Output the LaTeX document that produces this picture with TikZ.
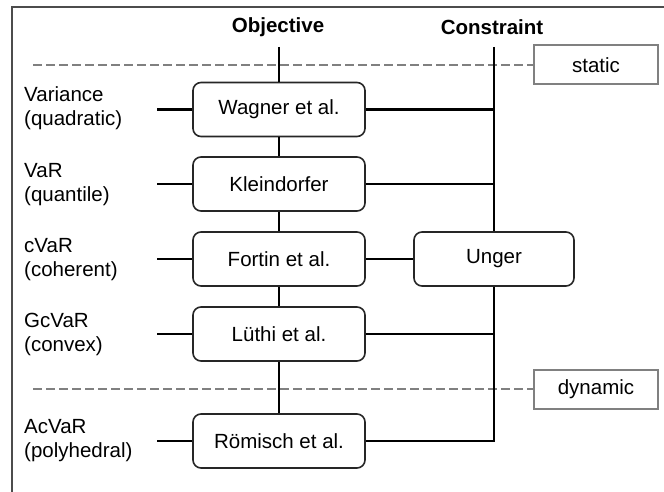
\documentclass[tikz,border=0pt]{standalone}
\usepackage{fontspec}
\setmainfont{Liberation Sans}
\newcommand{\fsz}{\fontsize{20.5pt}{24pt}\selectfont}
\begin{document}
\begin{tikzpicture}[x=1pt,y=-1pt,
  conn/.style={line width=2.3pt, black},
  obox/.style={draw=black!85, line width=1.6pt, rounded corners=8pt, minimum width=172pt, minimum height=54pt, inner sep=0pt, font=\fsz},
  tagbox/.style={draw=gray, line width=2pt, minimum width=124pt, minimum height=39pt, inner sep=0pt, font=\fsz},
  sepline/.style={gray, line width=2.2pt, dash pattern=on 9pt off 4pt},
  lab/.style={anchor=west, align=left, inner sep=0pt, font=\fsz},
  head/.style={font=\fsz\bfseries, inner sep=0pt}]
\useasboundingbox (0,0) rectangle (664,492);
\draw[line width=1.6pt, black!70] (12,495) -- (12,7) -- (667,7);

\node[head] (objh) at (278,27) {Objective};
\node[head] (consh) at (492,27) {Constraint};

\node[tagbox] (static) at (596,65) {static};
\node[tagbox] (dynamic) at (596,389) {dynamic};
\coordinate (d1) at (33,65);
\coordinate (d2) at (33,389);
\draw[sepline] (d1) -- (static.west);
\draw[sepline] (d2) -- (dynamic.west);

\node[obox] (wag) at (279,109.5) {Wagner et al.};
\node[obox] (kle) at (279,184) {Kleindorfer};
\node[obox] (for) at (279,259) {Fortin et al.};
\node[obox] (lut) at (279,334) {Lüthi et al.};
\node[obox] (rom) at (279,441) {Römisch et al.};
\node[obox, minimum width=160pt] (ung) at (494,259) {Unger};

\node[lab] (l1) at (24,108) {Variance\\(quadratic)};
\node[lab] (l2) at (24,185) {VaR\\(quantile)};
\node[lab] (l3) at (24,260) {cVaR\\(coherent)};
\node[lab] (l4) at (24,334) {GcVaR\\(convex)};
\node[lab] (l5) at (24,441) {AcVaR\\(polyhedral)};

\coordinate (s1) at (157,109.5);
\coordinate (s2) at (157,184);
\coordinate (s3) at (157,259);
\coordinate (s4) at (157,334);
\coordinate (s5) at (157,441);
\draw[conn] (s1) -- (wag.west);
\draw[conn] (s2) -- (kle.west);
\draw[conn] (s3) -- (for.west);
\draw[conn] (s4) -- (lut.west);
\draw[conn] (s5) -- (rom.west);

\coordinate (otop) at (279,47);
\coordinate (ctop) at (494,47);
\draw[conn] (otop) -- (wag.north);
\draw[conn] (wag.south) -- (kle.north);
\draw[conn] (kle.south) -- (for.north);
\draw[conn] (for.south) -- (lut.north);
\draw[conn] (lut.south) -- (rom.north);

\draw[conn] (ctop) -- (ung.north);
\draw[conn] (wag.east) -- (wag.east -| ung.north);
\draw[conn] (kle.east) -- (kle.east -| ung.north);
\draw[conn] (for.east) -- (ung.west);
\draw[conn] (lut.east) -- (lut.east -| ung.south);
\draw[conn, line join=miter] (ung.south) -- (ung.south |- rom.east) -- (rom.east);
\end{tikzpicture}
\end{document}
